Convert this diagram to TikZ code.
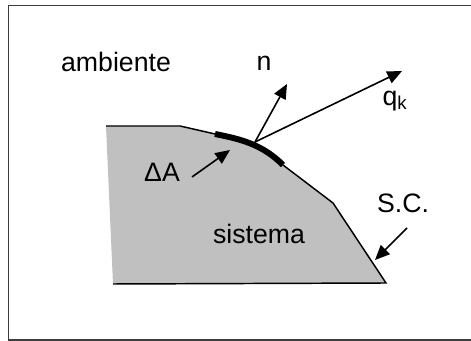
\documentclass[tikz,border=0pt]{standalone}
\usepackage{fontspec}
\setmainfont{Liberation Sans}
\usetikzlibrary{arrows.meta, positioning}
\definecolor{sysgray}{RGB}{192,192,192}
\definecolor{framegray}{RGB}{60,60,60}

\begin{document}
\begin{tikzpicture}[x=0.75pt, y=-0.75pt, >={Triangle[length=11pt, width=9.5pt]},
    lbl/.style={font=\fontsize{20}{24}\selectfont, inner sep=0pt},
    vec/.style={->, line width=1.2pt}]
  \useasboundingbox (0,0) rectangle (471,341);

  % Frame
  \draw[framegray, line width=1pt] (480,5.5) -- (8.5,5.5) -- (8.5,340) -- (480,340);

  % System (filled region)
  \fill[sysgray] (106,126) -- (180,126) -- (215,134)
    .. controls (240,139) and (262,144) .. (283,165)
    -- (333,203) -- (386,283) -- (113,284) -- cycle;
  \draw[line width=1.1pt] (106,126) -- (180,126) -- (215,134);
  \draw[line width=1.1pt] (283,165) -- (333,203) -- (386,283) -- (113,284);

  % Surface element
  \draw[line width=4.5pt] (215,134) .. controls (240,139) and (262,144) .. (283,165);

  % Points
  \coordinate (p) at (255,142);
  \coordinate (ntip) at (287,84);
  \coordinate (qtip) at (402,71);
  \coordinate (dafrom) at (192,177);
  \coordinate (dato) at (230,150);
  \coordinate (scfrom) at (407,228);
  \coordinate (scto) at (375,260);

  % Labels
  \node[lbl] (amb) at (116,62) {ambiente};
  \node[lbl] (n) at (264,63) {n};
  \node[lbl] (qk) at (395,101) {q\textsubscript{k}};
  \node[lbl] (da) at (162,172) {ΔA};
  \node[lbl] (sc) at (403,203) {S.C.};
  \node[lbl] (sis) at (259,234) {sistema};

  % Vectors
  \draw[vec] (p) -- (ntip);
  \draw[vec] (p) -- (qtip);
  \draw[vec] (dafrom) -- (dato);
  \draw[vec] (scfrom) -- (scto);
\end{tikzpicture}
\end{document}
